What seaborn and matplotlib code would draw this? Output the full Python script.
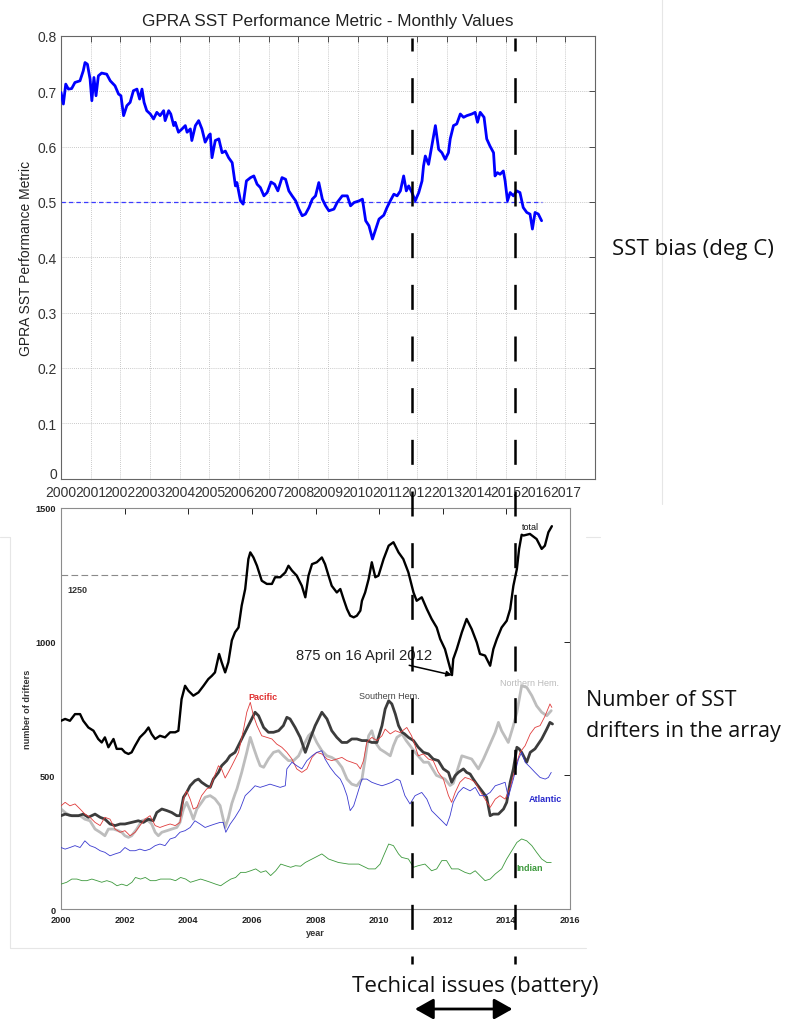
import numpy as np
import pandas as pd
import matplotlib
matplotlib.use("Agg")
import matplotlib.pyplot as plt
import seaborn as sns
from matplotlib.lines import Line2D
from matplotlib.patches import FancyArrowPatch

# ---------------- DATA ----------------
# Top panel: GPRA SST performance metric (monthly values)
gpra_years = [2000.00, 2000.08, 2000.16, 2000.25, 2000.36, 2000.47, 2000.64, 2000.75, 2000.81, 2000.89,
              2000.98, 2001.04, 2001.11, 2001.18, 2001.26, 2001.37, 2001.54, 2001.66, 2001.82, 2001.94,
              2002.02, 2002.11, 2002.22, 2002.33, 2002.44, 2002.56, 2002.65, 2002.73, 2002.80, 2002.89,
              2003.01, 2003.12, 2003.23, 2003.34, 2003.46, 2003.51, 2003.63, 2003.70, 2003.80, 2003.85,
              2003.96, 2004.08, 2004.19, 2004.25, 2004.36, 2004.41, 2004.53, 2004.64, 2004.75, 2004.86,
              2004.98, 2005.03, 2005.09, 2005.20, 2005.32, 2005.43, 2005.54, 2005.65, 2005.77, 2005.88,
              2005.93, 2006.05, 2006.14, 2006.25, 2006.39, 2006.50, 2006.61, 2006.72, 2006.84, 2006.95,
              2007.08, 2007.20, 2007.31, 2007.45, 2007.57, 2007.68, 2007.79, 2007.91, 2008.02, 2008.13,
              2008.24, 2008.36, 2008.47, 2008.58, 2008.69, 2008.81, 2008.92, 2009.03, 2009.20, 2009.31,
              2009.48, 2009.65, 2009.76, 2009.88, 2010.05, 2010.16, 2010.27, 2010.38, 2010.50, 2010.61,
              2010.72, 2010.88, 2010.99, 2011.10, 2011.22, 2011.33, 2011.44, 2011.55, 2011.64, 2011.72,
              2011.83, 2011.94, 2012.06, 2012.17, 2012.22, 2012.28, 2012.39, 2012.50, 2012.62, 2012.73,
              2012.84, 2012.95, 2013.06, 2013.12, 2013.23, 2013.34, 2013.46, 2013.57, 2013.68, 2013.85,
              2013.96, 2014.04, 2014.13, 2014.26, 2014.35, 2014.46, 2014.58, 2014.63, 2014.71, 2014.80,
              2014.91, 2014.97, 2015.05, 2015.14, 2015.25, 2015.36, 2015.47, 2015.58, 2015.70, 2015.81,
              2015.89, 2015.98, 2016.09, 2016.20]
gpra_values = [0.698, 0.677, 0.713, 0.704, 0.705, 0.716, 0.719, 0.737, 0.752, 0.749,
               0.722, 0.683, 0.725, 0.692, 0.728, 0.733, 0.731, 0.719, 0.710, 0.695,
               0.692, 0.656, 0.674, 0.680, 0.701, 0.704, 0.686, 0.704, 0.680, 0.665,
               0.659, 0.650, 0.662, 0.656, 0.665, 0.647, 0.665, 0.659, 0.638, 0.644,
               0.626, 0.632, 0.638, 0.626, 0.632, 0.611, 0.638, 0.647, 0.632, 0.608,
               0.620, 0.623, 0.580, 0.611, 0.614, 0.589, 0.592, 0.580, 0.571, 0.529,
               0.535, 0.502, 0.496, 0.538, 0.544, 0.547, 0.532, 0.526, 0.511, 0.517,
               0.536, 0.532, 0.520, 0.544, 0.541, 0.520, 0.511, 0.502, 0.487, 0.475,
               0.478, 0.490, 0.505, 0.511, 0.535, 0.505, 0.493, 0.484, 0.487, 0.499,
               0.511, 0.511, 0.493, 0.499, 0.502, 0.505, 0.466, 0.457, 0.433, 0.451,
               0.469, 0.476, 0.490, 0.502, 0.514, 0.511, 0.520, 0.547, 0.520, 0.529,
               0.517, 0.502, 0.517, 0.538, 0.565, 0.583, 0.568, 0.601, 0.638, 0.595,
               0.589, 0.577, 0.589, 0.614, 0.638, 0.641, 0.659, 0.653, 0.656, 0.659,
               0.662, 0.644, 0.662, 0.653, 0.614, 0.601, 0.589, 0.547, 0.553, 0.550,
               0.556, 0.538, 0.502, 0.517, 0.511, 0.520, 0.517, 0.490, 0.481, 0.478,
               0.451, 0.481, 0.478, 0.466]
gpra_target = 0.5
gpra_target_span = [2000.0, 2016.2]
top_xticks = list(range(2000, 2018))
top_yticks = [0, 0.1, 0.2, 0.3, 0.4, 0.5, 0.6, 0.7, 0.8]
top_yticklabels = ["0", "0.1", "0.2", "0.3", "0.4", "0.5", "0.6", "0.7", "0.8"]

# Bottom panel: number of drifters
total_years = [2000.00, 2000.13, 2000.28, 2000.44, 2000.60, 2000.70, 2000.86, 2001.02, 2001.17, 2001.28,
               2001.38, 2001.49, 2001.65, 2001.75, 2001.91, 2002.01, 2002.12, 2002.22, 2002.33, 2002.48,
               2002.64, 2002.75, 2002.85, 2002.96, 2003.11, 2003.27, 2003.43, 2003.59, 2003.69, 2003.79,
               2003.90, 2004.00, 2004.16, 2004.32, 2004.48, 2004.63, 2004.74, 2004.84, 2004.97, 2005.05,
               2005.16, 2005.26, 2005.37, 2005.47, 2005.58, 2005.68, 2005.79, 2005.89, 2005.95, 2006.05,
               2006.16, 2006.31, 2006.47, 2006.63, 2006.73, 2006.89, 2007.05, 2007.15, 2007.26, 2007.41,
               2007.57, 2007.68, 2007.78, 2007.89, 2008.04, 2008.20, 2008.30, 2008.41, 2008.51, 2008.67,
               2008.78, 2008.88, 2008.99, 2009.09, 2009.20, 2009.30, 2009.41, 2009.46, 2009.56, 2009.67,
               2009.77, 2009.88, 2009.98, 2010.14, 2010.30, 2010.45, 2010.61, 2010.76, 2010.92, 2011.08,
               2011.18, 2011.34, 2011.50, 2011.65, 2011.81, 2011.92, 2012.07, 2012.29, 2012.33, 2012.44,
               2012.60, 2012.75, 2012.91, 2013.07, 2013.17, 2013.33, 2013.49, 2013.59, 2013.70, 2013.85,
               2014.01, 2014.12, 2014.22, 2014.33, 2014.40, 2014.48, 2014.54, 2014.74, 2014.95, 2015.11,
               2015.21, 2015.32, 2015.43]
total_values = [704, 711, 704, 729, 729, 704, 679, 667, 636, 623,
                642, 605, 636, 599, 599, 586, 580, 586, 611, 642,
                661, 679, 654, 636, 648, 642, 661, 661, 667, 785,
                835, 817, 798, 810, 835, 860, 872, 885, 954, 923,
                885, 923, 1005, 1035, 1053, 1135, 1197, 1309, 1334, 1315,
                1284, 1228, 1216, 1216, 1241, 1241, 1259, 1284, 1266, 1247,
                1209, 1166, 1247, 1290, 1297, 1315, 1290, 1247, 1209, 1184,
                1197, 1160, 1122, 1097, 1091, 1097, 1116, 1153, 1184, 1234,
                1297, 1241, 1247, 1309, 1359, 1372, 1334, 1309, 1259, 1184,
                1153, 1166, 1122, 1085, 1053, 1010, 972, 875, 935, 972,
                1035, 1085, 1047, 997, 954, 948, 910, 972, 1010, 1053,
                1078, 1122, 1209, 1272, 1347, 1400, 1397, 1403, 1384, 1347,
                1359, 1409, 1432]

south_years = [2000.00, 2000.13, 2000.34, 2000.55, 2000.70, 2000.86, 2001.07, 2001.23, 2001.38, 2001.54,
               2001.70, 2001.86, 2002.01, 2002.22, 2002.43, 2002.59, 2002.75, 2002.90, 2003.01, 2003.17,
               2003.33, 2003.48, 2003.64, 2003.74, 2003.85, 2003.95, 2004.06, 2004.21, 2004.32, 2004.42,
               2004.58, 2004.69, 2004.79, 2004.95, 2005.05, 2005.21, 2005.31, 2005.47, 2005.68, 2005.89,
               2006.10, 2006.21, 2006.37, 2006.52, 2006.68, 2006.84, 2006.99, 2007.10, 2007.20, 2007.36,
               2007.52, 2007.68, 2007.83, 2007.99, 2008.20, 2008.36, 2008.51, 2008.67, 2008.83, 2008.99,
               2009.14, 2009.30, 2009.46, 2009.61, 2009.77, 2009.93, 2010.09, 2010.19, 2010.30, 2010.40,
               2010.51, 2010.61, 2010.72, 2010.80, 2010.92, 2011.08, 2011.23, 2011.39, 2011.55, 2011.70,
               2011.86, 2012.02, 2012.18, 2012.28, 2012.39, 2012.49, 2012.65, 2012.75, 2012.86, 2012.96,
               2013.07, 2013.23, 2013.38, 2013.49, 2013.59, 2013.75, 2013.91, 2014.01, 2014.12, 2014.22,
               2014.33, 2014.40, 2014.48, 2014.64, 2014.75, 2014.90, 2015.11, 2015.27, 2015.37, 2015.45]
south_values = [349, 355, 349, 349, 355, 343, 355, 343, 336, 318,
                312, 318, 318, 324, 330, 324, 336, 330, 361, 374,
                368, 361, 349, 349, 418, 436, 461, 480, 486, 474,
                461, 455, 486, 511, 536, 555, 573, 586, 636, 686,
                736, 723, 679, 661, 661, 667, 686, 717, 711, 679,
                642, 586, 636, 686, 736, 711, 667, 642, 623, 623,
                636, 636, 630, 630, 623, 623, 686, 748, 779, 767,
                729, 686, 661, 655, 642, 630, 605, 586, 580, 561,
                555, 524, 511, 474, 499, 511, 524, 511, 505, 486,
                467, 442, 418, 349, 355, 355, 374, 399, 474, 524,
                605, 599, 586, 549, 586, 599, 636, 673, 698, 692]

north_years = [2000.00, 2000.13, 2000.28, 2000.44, 2000.60, 2000.75, 2000.91, 2001.07, 2001.23, 2001.38,
               2001.49, 2001.65, 2001.80, 2001.91, 2002.01, 2002.12, 2002.22, 2002.38, 2002.54, 2002.69,
               2002.85, 2002.96, 2003.06, 2003.17, 2003.33, 2003.48, 2003.64, 2003.74, 2003.85, 2003.95,
               2004.06, 2004.16, 2004.27, 2004.42, 2004.53, 2004.69, 2004.84, 2005.00, 2005.10, 2005.16,
               2005.26, 2005.37, 2005.47, 2005.53, 2005.68, 2005.84, 2005.95, 2006.05, 2006.16, 2006.26,
               2006.37, 2006.52, 2006.68, 2006.84, 2006.99, 2007.15, 2007.31, 2007.47, 2007.62, 2007.78,
               2007.89, 2008.04, 2008.20, 2008.36, 2008.51, 2008.67, 2008.83, 2008.99, 2009.14, 2009.30,
               2009.46, 2009.56, 2009.67, 2009.77, 2009.88, 2010.03, 2010.19, 2010.35, 2010.45, 2010.56,
               2010.72, 2010.85, 2011.13, 2011.40, 2011.55, 2011.80, 2012.07, 2012.23, 2012.33, 2012.60,
               2012.91, 2013.12, 2013.28, 2013.65, 2013.75, 2013.85, 2014.06, 2014.22, 2014.33, 2014.48,
               2014.64, 2014.80, 2014.95, 2015.11, 2015.27, 2015.41]
north_values = [374, 361, 349, 349, 349, 336, 330, 299, 287, 274,
                299, 299, 293, 287, 274, 268, 274, 299, 330, 336,
                318, 287, 274, 287, 293, 299, 305, 324, 374, 399,
                368, 336, 374, 399, 418, 424, 412, 387, 336, 305,
                340, 395, 430, 449, 511, 586, 642, 605, 567, 536,
                530, 561, 586, 592, 573, 555, 555, 573, 611, 648,
                661, 623, 592, 573, 567, 555, 530, 486, 467, 461,
                486, 561, 648, 667, 623, 598, 586, 573, 611, 642,
                655, 630, 586, 549, 549, 500, 486, 462, 470, 573,
                561, 524, 561, 661, 698, 667, 623, 686, 736, 835,
                829, 798, 760, 736, 723, 742]

pacific_years = [2000.00, 2000.13, 2000.28, 2000.44, 2000.60, 2000.75, 2000.91, 2001.07, 2001.23, 2001.38,
                 2001.54, 2001.70, 2001.86, 2002.01, 2002.17, 2002.33, 2002.48, 2002.64, 2002.80, 2002.96,
                 2003.11, 2003.27, 2003.43, 2003.59, 2003.74, 2003.85, 2003.95, 2004.06, 2004.16, 2004.27,
                 2004.42, 2004.58, 2004.69, 2004.79, 2004.95, 2005.05, 2005.16, 2005.26, 2005.37, 2005.58,
                 2005.74, 2005.84, 2005.95, 2006.05, 2006.16, 2006.31, 2006.47, 2006.63, 2006.78, 2006.94,
                 2007.10, 2007.26, 2007.41, 2007.57, 2007.73, 2007.89, 2008.04, 2008.20, 2008.36, 2008.51,
                 2008.67, 2008.83, 2008.99, 2009.14, 2009.30, 2009.41, 2009.51, 2009.61, 2009.77, 2009.93,
                 2010.09, 2010.19, 2010.35, 2010.51, 2010.66, 2010.87, 2011.02, 2011.13, 2011.23, 2011.39,
                 2011.55, 2011.70, 2011.86, 2012.02, 2012.18, 2012.28, 2012.39, 2012.54, 2012.70, 2012.86,
                 2013.02, 2013.17, 2013.33, 2013.49, 2013.65, 2013.80, 2013.96, 2014.12, 2014.22, 2014.33,
                 2014.43, 2014.59, 2014.75, 2014.90, 2015.06, 2015.22, 2015.37, 2015.43]
pacific_values = [386, 399, 386, 393, 374, 355, 343, 324, 312, 343,
                  336, 299, 287, 293, 274, 287, 312, 336, 349, 312,
                  305, 312, 318, 312, 324, 411, 442, 411, 374, 380,
                  424, 449, 455, 486, 536, 523, 490, 511, 536, 586,
                  673, 736, 773, 723, 686, 648, 642, 636, 617, 605,
                  586, 561, 524, 511, 524, 567, 586, 580, 561, 555,
                  561, 567, 555, 549, 542, 524, 555, 623, 642, 630,
                  648, 673, 655, 667, 660, 679, 648, 611, 573, 580,
                  561, 555, 511, 486, 424, 399, 436, 474, 492, 486,
                  474, 442, 411, 380, 411, 424, 411, 455, 499, 549,
                  586, 611, 655, 679, 686, 723, 767, 754]

atlantic_years = [2000.00, 2000.13, 2000.28, 2000.44, 2000.60, 2000.75, 2000.91, 2001.07, 2001.23, 2001.38,
                  2001.54, 2001.70, 2001.86, 2002.01, 2002.17, 2002.33, 2002.48, 2002.64, 2002.80, 2002.96,
                  2003.11, 2003.27, 2003.43, 2003.59, 2003.74, 2003.90, 2004.06, 2004.21, 2004.37, 2004.53,
                  2004.69, 2004.84, 2005.00, 2005.10, 2005.18, 2005.32, 2005.47, 2005.63, 2005.79, 2005.95,
                  2006.10, 2006.26, 2006.42, 2006.57, 2006.73, 2006.89, 2007.05, 2007.10, 2007.26, 2007.41,
                  2007.57, 2007.73, 2007.89, 2008.04, 2008.20, 2008.30, 2008.46, 2008.62, 2008.78, 2008.88,
                  2008.99, 2009.09, 2009.20, 2009.30, 2009.46, 2009.61, 2009.77, 2009.93, 2010.09, 2010.24,
                  2010.40, 2010.56, 2010.66, 2010.81, 2010.97, 2011.13, 2011.34, 2011.50, 2011.65, 2011.81,
                  2011.97, 2012.12, 2012.23, 2012.33, 2012.49, 2012.65, 2012.86, 2013.02, 2013.17, 2013.33,
                  2013.49, 2013.65, 2013.80, 2013.96, 2014.06, 2014.22, 2014.38, 2014.48, 2014.59, 2014.75,
                  2014.90, 2015.06, 2015.22, 2015.32, 2015.41]
atlantic_values = [230, 224, 230, 237, 230, 255, 237, 230, 218, 212,
                   199, 206, 212, 230, 218, 218, 224, 218, 224, 237,
                   243, 237, 262, 268, 287, 293, 305, 330, 318, 305,
                   312, 318, 324, 324, 287, 318, 343, 374, 424, 442,
                   461, 455, 461, 467, 461, 455, 461, 524, 549, 536,
                   524, 555, 573, 586, 592, 561, 530, 505, 486, 461,
                   424, 368, 386, 424, 486, 486, 474, 467, 461, 467,
                   474, 486, 480, 424, 393, 424, 436, 411, 368, 349,
                   330, 312, 349, 399, 436, 455, 442, 455, 424, 424,
                   436, 461, 467, 474, 418, 486, 561, 586, 549, 530,
                   511, 492, 486, 492, 511]

indian_years = [2000.00, 2000.18, 2000.34, 2000.50, 2000.66, 2000.81, 2000.97, 2001.13, 2001.28, 2001.44,
                2001.60, 2001.76, 2001.91, 2002.07, 2002.23, 2002.34, 2002.50, 2002.65, 2002.81, 2002.97,
                2003.13, 2003.29, 2003.44, 2003.60, 2003.76, 2003.92, 2004.07, 2004.23, 2004.39, 2004.55,
                2004.70, 2004.86, 2005.02, 2005.18, 2005.34, 2005.49, 2005.65, 2005.81, 2005.96, 2006.12,
                2006.28, 2006.44, 2006.59, 2006.75, 2006.91, 2007.06, 2007.22, 2007.37, 2007.53, 2007.68,
                2007.99, 2008.20, 2008.41, 2008.72, 2009.04, 2009.36, 2009.67, 2009.88, 2010.03, 2010.14,
                2010.30, 2010.45, 2010.61, 2010.71, 2010.92, 2011.08, 2011.23, 2011.44, 2011.65, 2011.81,
                2011.97, 2012.12, 2012.28, 2012.49, 2012.70, 2012.86, 2013.02, 2013.17, 2013.33, 2013.49,
                2013.65, 2013.85, 2014.01, 2014.17, 2014.33, 2014.48, 2014.64, 2014.80, 2014.95, 2015.11,
                2015.27, 2015.41]
indian_values = [93, 100, 112, 112, 106, 106, 112, 106, 100, 106,
                 100, 87, 93, 87, 100, 118, 112, 118, 106, 106,
                 112, 112, 112, 106, 118, 112, 100, 106, 112, 106,
                 100, 93, 87, 100, 112, 118, 137, 137, 143, 150,
                 137, 143, 125, 143, 168, 162, 156, 162, 160, 174,
                 193, 206, 187, 174, 168, 168, 150, 150, 168, 199,
                 243, 237, 206, 193, 187, 156, 162, 168, 143, 150,
                 181, 181, 150, 150, 137, 131, 143, 125, 106, 112,
                 131, 150, 187, 218, 249, 262, 255, 237, 212, 187,
                 174, 174]

reference_level = 1250
minimum_point = (2012.29, 875)
issue_years = [2011.04, 2014.28]   # technical issues (battery), bottom-panel years
bottom_xticks = [2000, 2002, 2004, 2006, 2008, 2010, 2012, 2014, 2016]
bottom_yticks = [0, 500, 1000, 1500]

# ---------------- STYLE ----------------
sns.set_style("white")
plt.rcParams["font.family"] = ["Liberation Sans", "DejaVu Sans"]

W, H = 785, 1020
fig = plt.figure(figsize=(W / 100, H / 100), dpi=100)
fig.patch.set_facecolor("white")

def fx(px):
    return px / W

def fy(py):
    return 1 - py / H

# faint frame lines of the composite image
frame_col = "#e6e6e6"
for (xa, ya, xb, yb) in [(662, 0, 662, 505), (10, 538, 10, 949), (10, 949, 586, 949),
                         (0, 538, 10, 538), (586, 538, 600, 538)]:
    fig.add_artist(Line2D([fx(xa), fx(xb)], [fy(ya), fy(yb)], transform=fig.transFigure,
                          color=frame_col, lw=0.8, zorder=0))

# ---------------- TOP PANEL ----------------
ax1 = fig.add_axes([fx(61), fy(479.5), fx(595) - fx(61), fy(37) - fy(479.5)])
ax1.set_facecolor("white")
ax1.plot(gpra_target_span, [gpra_target, gpra_target], color="#3b3bff", lw=0.9,
         linestyle=(0, (3.5, 2.5)), zorder=2)
sns.lineplot(x=gpra_years, y=gpra_values, ax=ax1, color="#0000ff", lw=2.0,
             estimator=None, sort=False, zorder=3)
ax1.set_xlim(2000, 2018)
ax1.set_ylim(0, 0.8)
ax1.set_xticks(top_xticks)
ax1.set_xticklabels([str(t) for t in top_xticks])
ax1.set_yticks(top_yticks)
ax1.set_yticklabels(top_yticklabels)
ax1.grid(True, color="#b8b8b8", linestyle=(0, (1, 1.5)), lw=0.6)
ax1.tick_params(direction="in", top=True, right=True, length=4, width=0.6,
                labelsize=10, pad=3, colors="#333333")
ax1.tick_params(axis="x", pad=5)
# MATLAB draws the "0" label slightly raised above the year labels
ax1.get_yticklabels()[0].set_verticalalignment("baseline")
for s in ax1.spines.values():
    s.set_color("#666666")
    s.set_linewidth(0.8)
ax1.set_title("GPRA SST Performance Metric - Monthly Values", fontsize=12.3,
              color="#222222", pad=8)
ax1.set_ylabel("GPRA SST Performance Metric", fontsize=10, color="#222222")
ax1.yaxis.set_label_coords(-0.053, 0.5)
ax1.set_xlabel("")

# ---------------- BOTTOM PANEL ----------------
ax2 = fig.add_axes([fx(61), fy(910), fx(570) - fx(61), fy(509) - fy(910)])
ax2.set_facecolor("white")
ax2.axhline(reference_level, color="#8a8a8a", lw=0.8, linestyle=(0, (6, 3)), zorder=1)
sns.lineplot(x=north_years, y=north_values, ax=ax2, color="#bdbdbd", lw=2.0,
             estimator=None, sort=False, zorder=2)
sns.lineplot(x=south_years, y=south_values, ax=ax2, color="#3c3c3c", lw=2.0,
             estimator=None, sort=False, zorder=3)
sns.lineplot(x=pacific_years, y=pacific_values, ax=ax2, color="#e03c3c", lw=0.6,
             estimator=None, sort=False, zorder=4)
sns.lineplot(x=atlantic_years, y=atlantic_values, ax=ax2, color="#3a3ad0", lw=0.6,
             estimator=None, sort=False, zorder=4)
sns.lineplot(x=indian_years, y=indian_values, ax=ax2, color="#3d993d", lw=0.6,
             estimator=None, sort=False, zorder=4)
sns.lineplot(x=total_years, y=total_values, ax=ax2, color="#000000", lw=1.7,
             estimator=None, sort=False, zorder=5)
ax2.set_xlim(2000, 2016)
ax2.set_ylim(0, 1500)
ax2.set_xticks(bottom_xticks)
ax2.set_yticks(bottom_yticks)
ax2.tick_params(direction="in", top=True, right=True, length=4, width=0.7,
                labelsize=6.6, pad=4, colors="#222222")
for lab in ax2.get_xticklabels() + ax2.get_yticklabels():
    lab.set_fontweight("bold")
for s in ax2.spines.values():
    s.set_color("#8c8c8c")
    s.set_linewidth(0.8)
ax2.set_xlabel("year", fontsize=6.6, fontweight="bold", color="#333333", labelpad=3)
ax2.set_ylabel("number of drifters", fontsize=6.6, fontweight="bold", color="#333333")
ax2.yaxis.set_label_coords(-0.057, 0.5)

lab_kw = dict(fontsize=6.5, ha="left", va="center", zorder=6)
ax2.text(2000.19, 1197, "1250", color="#333333", fontweight="bold", **lab_kw)
ax2.text(2014.50, 1432, "total", color="#111111", **lab_kw)
ax2.text(2005.88, 795, "Pacific", color="#e03030", fontweight="bold", **lab_kw)
ax2.text(2009.37, 800, "Southern Hem.", color="#444444", **lab_kw)
ax2.text(2013.80, 849, "Northern Hem.", color="#bbbbbb", **lab_kw)
ax2.text(2014.72, 415, "Atlantic", color="#2a2acc", fontweight="bold", **lab_kw)
ax2.text(2014.31, 157, "Indian", color="#3d993d", fontweight="bold", **lab_kw)
ax2.annotate("875 on 16 April 2012", xy=minimum_point, xytext=(2009.53, 950),
             ha="center", va="center", fontsize=10.6, color="#222222", zorder=6,
             arrowprops=dict(arrowstyle="-|>", color="black", lw=1.1,
                             mutation_scale=8, shrinkA=0, shrinkB=0))

# ---------------- OVERLAY ANNOTATIONS ----------------
fig.canvas.draw()
inv = fig.transFigure.inverted()
lw_v = 1.8
for yr in issue_years:
    xpix = ax2.transData.transform((yr, 0))[0]
    xf = inv.transform((xpix, 0))[0]
    fig.add_artist(Line2D([xf, xf], [fy(39), fy(965)], transform=fig.transFigure,
                          color="black", lw=lw_v,
                          linestyle=(4.8, (18 / lw_v, 19.2 / lw_v)), zorder=20))

x_left = inv.transform((ax2.transData.transform((issue_years[0], 0))[0], 0))[0]
x_right = inv.transform((ax2.transData.transform((issue_years[1], 0))[0], 0))[0]
fig.add_artist(FancyArrowPatch((x_left, fy(1010)), (x_right, fy(1010)),
                               transform=fig.transFigure,
                               arrowstyle="<|-|>,head_length=0.8,head_width=0.45",
                               mutation_scale=14, lw=2.0, color="black", zorder=20))

side_kw = dict(family=["Open Sans", "DejaVu Sans"], color="#111111",
               ha="left", va="center")
fig.text(fx(612), fy(250), "SST bias (deg C)", fontsize=16, **side_kw)
fig.text(fx(586), fy(700), "Number of SST", fontsize=15.5, **side_kw)
fig.text(fx(586), fy(731), "drifters in the array", fontsize=15.5, **side_kw)
fig.text(fx(352), fy(987), "Techical issues (battery)", fontsize=16, **side_kw)

fig.savefig("out.png", dpi=100, facecolor="white")
